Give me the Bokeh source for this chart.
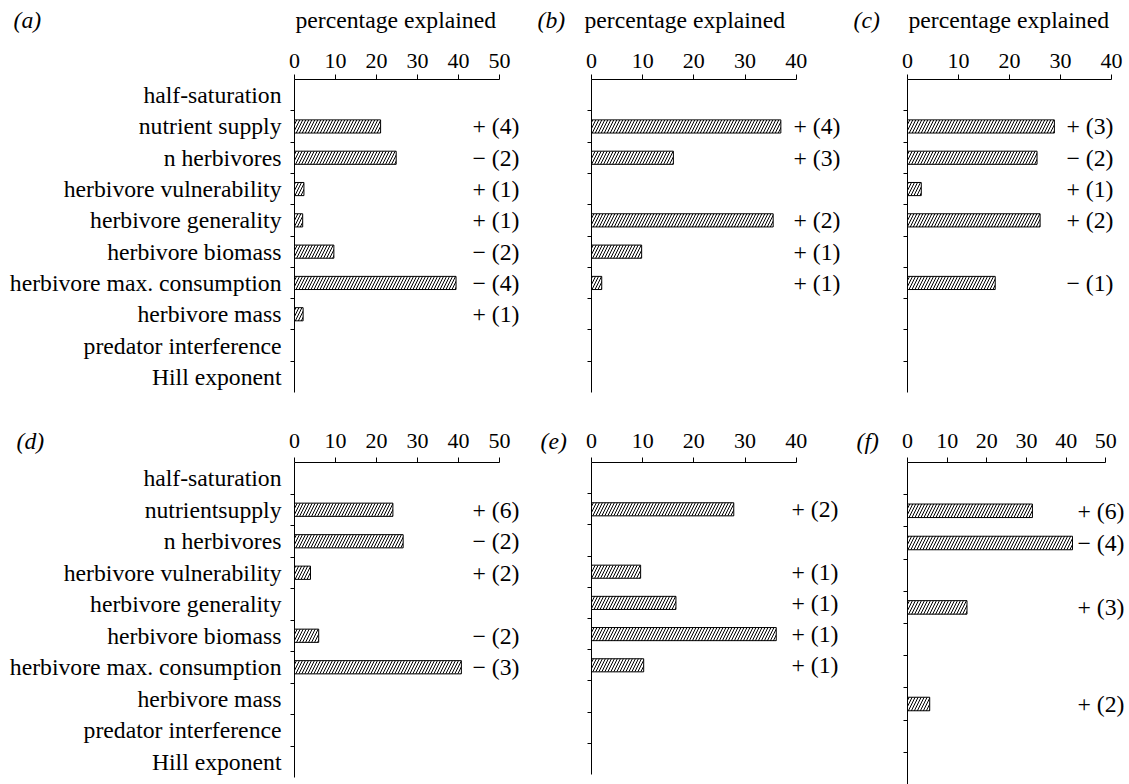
from bokeh.plotting import figure
from bokeh.models import Range1d, FixedTicker, LinearAxis
from bokeh.layouts import column, row
from bokeh.core.properties import value
from bokeh.embed import file_html
from bokeh.resources import INLINE

# ---------------- data ----------------
categories_top = ["half-saturation", "nutrient supply", "n herbivores",
                  "herbivore vulnerability", "herbivore generality",
                  "herbivore biomass", "herbivore max. consumption",
                  "herbivore mass", "predator interference", "Hill exponent"]
categories_bottom = ["half-saturation", "nutrientsupply", "n herbivores",
                     "herbivore vulnerability", "herbivore generality",
                     "herbivore biomass", "herbivore max. consumption",
                     "herbivore mass", "predator interference", "Hill exponent"]
x_ticks_50 = [0, 10, 20, 30, 40, 50]
x_ticks_40 = [0, 10, 20, 30, 40]
panel_names = ["(a)", "(b)", "(c)", "(d)", "(e)", "(f)"]
axis_title = "percentage explained"

values_a = [None, 21.0, 24.8, 2.3, 2.0, 9.6, 39.4, 2.1, None, None]
signs_a = [None, "+ (4)", "\u2212 (2)", "+ (1)", "+ (1)", "\u2212 (2)", "\u2212 (4)", "+ (1)", None, None]

values_b = [None, 37.0, 16.0, None, 35.5, 9.8, 2.0, None, None, None]
signs_b = [None, "+ (4)", "+ (3)", None, "+ (2)", "+ (1)", "+ (1)", None, None, None]

values_c = [None, 28.8, 25.4, 2.7, 26.0, None, 17.2, None, None, None]
signs_c = [None, "+ (3)", "\u2212 (2)", "+ (1)", "+ (2)", None, "\u2212 (1)", None, None, None]

values_d = [None, 24.0, 26.5, 3.9, None, 5.9, 40.7, None, None, None]
signs_d = [None, "+ (6)", "\u2212 (2)", "+ (2)", None, "\u2212 (2)", "\u2212 (3)", None, None, None]

values_e = [None, 27.8, None, 9.6, 16.5, 36.1, 10.2, None, None, None]
signs_e = [None, "+ (2)", None, "+ (1)", "+ (1)", "+ (1)", "+ (1)", None, None, None]

values_f = [None, 31.5, 41.6, None, 15.0, None, None, 5.6, None, None]
signs_f = [None, "+ (6)", "\u2212 (4)", None, "+ (3)", None, None, "+ (2)", None, None]

# ---------------- styling / layout ----------------
FONT = "Liberation Serif"
TXT = "23.7px"


def make_panel(values, signs, labels, ticks, x0, y0, W, H, FL, AT, px_unit,
               row_px, ann_page_x, standoff, name, name_page_x, head_mid_y,
               title_page_x):
    n = len(values)

    def dx(px):
        return (px - FL) / px_unit

    def dy(py):
        return -0.5 + (py - AT) / row_px

    p = figure(width=W, height=H,
               x_range=Range1d(dx(x0), dx(x0 + W)),
               y_range=Range1d(dy(y0 + H), dy(y0)),
               x_axis_location=None, y_axis_location=None,
               output_backend="svg", toolbar_location=None,
               min_border_left=0, min_border_right=0,
               min_border_top=0, min_border_bottom=0)
    p.outline_line_color = None
    p.xgrid.visible = False
    p.ygrid.visible = False
    p.background_fill_color = "white"
    p.border_fill_color = "white"

    xa = LinearAxis(fixed_location=-0.5, ticker=FixedTicker(ticks=ticks),
                    bounds=(0, ticks[-1]))
    xa.axis_line_color = "black"
    xa.axis_line_width = 1
    xa.major_tick_line_color = "black"
    xa.major_tick_out = 5
    xa.major_tick_in = 0
    xa.minor_tick_line_color = None
    xa.major_label_text_font = FONT
    xa.major_label_text_font_size = "22px"
    xa.major_label_text_color = "black"
    xa.major_label_standoff = standoff
    p.add_layout(xa, "above")

    ya = LinearAxis(fixed_location=0,
                    ticker=FixedTicker(ticks=list(range(n)),
                                       minor_ticks=[i + 0.5 for i in range(n - 1)]),
                    bounds=(-0.5, n - 0.5))
    ya.axis_line_color = "black"
    ya.axis_line_width = 1
    ya.major_tick_line_color = None
    ya.major_tick_out = 0
    ya.major_tick_in = 0
    ya.minor_tick_line_color = "black"
    ya.minor_tick_out = 4
    ya.minor_tick_in = 0
    if labels is not None:
        ya.major_label_overrides = {i: lab for i, lab in enumerate(labels)}
        ya.major_label_text_font = FONT
        ya.major_label_text_font_size = TXT
        ya.major_label_text_color = "black"
        ya.major_label_standoff = 9
    else:
        ya.major_label_overrides = {i: "" for i in range(n)}
        ya.major_label_text_font_size = "0px"
    p.add_layout(ya, "left")

    ys = [i for i, v in enumerate(values) if v is not None]
    xs = [v for v in values if v is not None]
    p.hbar(y=ys, left=0, right=xs, height=0.42,
           fill_color="white", line_color="black", line_width=1,
           hatch_pattern="/", hatch_color="black", hatch_scale=6,
           hatch_weight=1)

    ty = [i for i, s in enumerate(signs) if s]
    tt = [s for s in signs if s]
    p.text(x=[dx(ann_page_x)] * len(ty), y=ty, text=tt, text_font=value(FONT),
           text_font_size=TXT, text_baseline="middle", text_align="left",
           text_color="black")

    p.text(x=[dx(name_page_x)], y=[dy(head_mid_y)], text=[name],
           text_font=value(FONT), text_font_size=TXT,
           text_font_style=value("italic"), text_baseline="middle",
           text_align="left", text_color="black")
    if title_page_x is not None:
        p.text(x=[dx(title_page_x)], y=[dy(head_mid_y)], text=[axis_title],
               text_font=value(FONT), text_font_size=TXT,
               text_baseline="middle", text_align="left",
               text_color="black")
    return p


pa = make_panel(values_a, signs_a, categories_top, x_ticks_50,
                0, 0, 536, 396, 294, 79, 4.1, 31.3, 472, 7,
                panel_names[0], 13, 19.5, 295)
pb = make_panel(values_b, signs_b, None, x_ticks_40,
                536, 0, 314, 396, 591, 79, 5.1175, 31.3, 793, 7,
                panel_names[1], 537, 19.5, 584)
pc = make_panel(values_c, signs_c, None, x_ticks_40,
                850, 0, 279, 396, 907, 79, 5.1, 31.3, 1066, 7,
                panel_names[2], 853, 19.5, 908)

pd = make_panel(values_d, signs_d, categories_bottom, x_ticks_50,
                0, 396, 536, 388, 294, 462, 4.1, 31.5, 472, 10,
                panel_names[3], 16, 440, None)
pe = make_panel(values_e, signs_e, None, x_ticks_40,
                536, 396, 314, 388, 591, 462, 5.1175, 31.2, 791, 10,
                panel_names[4], 540, 440, None)
pf = make_panel(values_f, signs_f, None, x_ticks_50,
                850, 396, 279, 388, 907, 462, 3.966, 32.2, 1077, 10,
                panel_names[5], 856, 440, None)

layout = column(row(pa, pb, pc), row(pd, pe, pf))

open("out.html", "w").write(file_html(layout, INLINE))
